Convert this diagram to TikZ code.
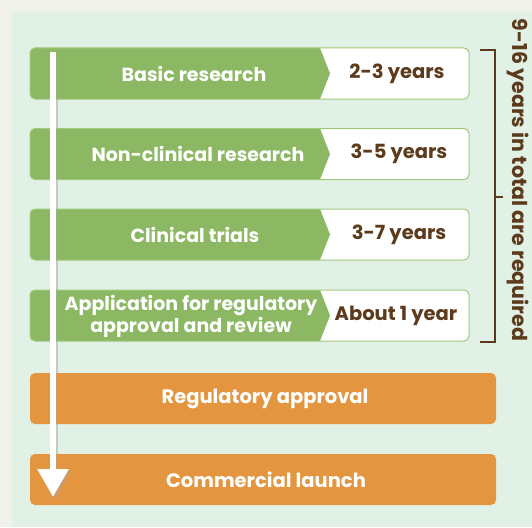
\documentclass[tikz,border=0pt]{standalone}
\usepackage{fontspec}
\setmainfont{Poppins}
\usetikzlibrary{arrows.meta}
\definecolor{outerbg}{HTML}{F1F1EC}
\definecolor{panel}{HTML}{E1F1E5}
\definecolor{leaf}{HTML}{8CB864}
\definecolor{leafline}{HTML}{9FC97C}
\definecolor{amber}{HTML}{E3953F}
\definecolor{bark}{HTML}{5C3A1C}
\tikzset{
  steptext/.style={text=white,font=\bfseries\fontsize{19}{22}\selectfont,align=center,inner sep=0pt},
  durtext/.style={text=bark,font=\bfseries\fontsize{19.5}{22}\selectfont,inner sep=0pt},
  finaltext/.style={text=white,font=\bfseries\fontsize{19.5}{22}\selectfont,inner sep=0pt},
  bracketline/.style={draw=bark,line width=2pt},
}
\newcommand{\stagebar}[1]{%
  \pgfmathsetmacro{\ytop}{#1}%
  \pgfmathsetmacro{\ybot}{#1+51}%
  \pgfmathsetmacro{\ymid}{#1+25.5}%
  \fill[white,rounded corners=5pt] (30,\ytop) rectangle (469,\ybot);
  \begin{scope}
    \clip[rounded corners=5pt] (30,\ytop) rectangle (469,\ybot);
    \fill[leaf] (0,\ytop) -- (320,\ytop) -- (330,\ymid) -- (320,\ybot) -- (0,\ybot) -- cycle;
  \end{scope}
  \draw[leafline,line width=1pt,rounded corners=5pt] (30,\ytop) rectangle (469,\ybot);
}
\begin{document}
\begin{tikzpicture}[x=1pt,y=-1pt]
\useasboundingbox (0,0) rectangle (532,527);
\fill[outerbg] (0,0) rectangle (532,527);
\fill[panel] (12,12) rectangle (532,527);

\stagebar{48}
\stagebar{128.5}
\stagebar{209}
\stagebar{290}

\node[steptext] (s1) at (194,73.5) {Basic research};
\node[steptext] (s2) at (198,154) {Non-clinical research};
\node[steptext] (s3) at (195,234.5) {Clinical trials};
\node[steptext] (s4) at (191,316.5) {Application for regulatory\\approval and review};

\node[durtext] (d1) at (397,73.5) {2-3 years};
\node[durtext] (d2) at (399,154) {3-5 years};
\node[durtext] (d3) at (399,234.5) {3-7 years};
\node[durtext] (d4) at (396,315.5) {About 1 year};

\fill[amber,rounded corners=5pt] (30,373) rectangle (496,424);
\fill[amber,rounded corners=5pt] (30,454) rectangle (496,505);
\node[finaltext] (r1) at (265,398.5) {Regulatory approval};
\node[finaltext] (r2) at (266,479.5) {Commercial launch};

% bracket
\coordinate (bt) at (480,50);
\coordinate (bb) at (480,342);
\coordinate (bm) at (503,197);
\draw[bracketline] (bt) -- (495,50) -- (495,342) -- (bb);
\draw[bracketline] (495,197) -- (bm);
\node[text=bark,font=\bfseries\fontsize{20.5}{22}\selectfont,rotate=-90,inner sep=0pt] (total) at (518,180) {9-16 years in total are required};

% arrow
\coordinate (at) at (53,52);
\coordinate (ab) at (53,497);
\draw[black!35,line width=6pt,-{Triangle[width=30pt,length=28pt]},opacity=0.5] ([xshift=2pt,yshift=-2pt]at) -- ([xshift=2pt,yshift=-2pt]ab);
\draw[white,line width=6pt,-{Triangle[width=30pt,length=28pt]}] (at) -- (ab);
\end{tikzpicture}
\end{document}
